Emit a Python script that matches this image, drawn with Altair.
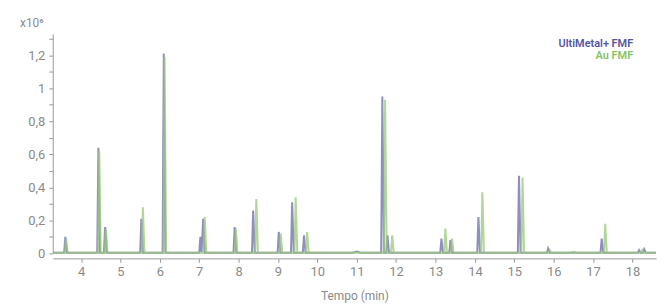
import altair as alt
import pandas as pd

# UltiMetal+ FMF peaks (time in min, intensity x10^6)
ulti_t = [3.30, 3.57, 3.60, 3.64, 4.41, 4.44, 4.48, 4.58, 4.61, 4.65, 5.50, 5.53, 5.57,
          6.07, 6.10, 6.14, 7.00, 7.03, 7.06, 7.10, 7.14, 7.87, 7.90, 7.94, 8.34, 8.37, 8.41,
          8.99, 9.02, 9.06, 9.33, 9.36, 9.40, 9.63, 9.66, 9.70, 10.9, 11.0, 11.1, 11.62, 11.65,
          11.69, 11.75, 11.78, 11.82, 13.12, 13.15, 13.19, 13.35, 13.38, 13.42, 14.06, 14.09,
          14.13, 15.09, 15.12, 15.16, 15.83, 15.86, 15.90, 17.19, 17.22, 17.26, 18.14, 18.17,
          18.21, 18.27, 18.30, 18.34, 18.60]
ulti_v = [0.004, 0.004, 0.10, 0.004, 0.004, 0.64, 0.004, 0.004, 0.16, 0.004, 0.004, 0.21, 0.004,
          0.004, 1.21, 0.004, 0.004, 0.10, 0.004, 0.21, 0.004, 0.004, 0.16, 0.004, 0.004, 0.26, 0.004,
          0.004, 0.13, 0.004, 0.004, 0.31, 0.004, 0.004, 0.11, 0.004, 0.004, 0.012, 0.004, 0.004, 0.95,
          0.004, 0.004, 0.11, 0.004, 0.004, 0.09, 0.004, 0.004, 0.08, 0.004, 0.004, 0.22,
          0.004, 0.004, 0.47, 0.004, 0.004, 0.03, 0.004, 0.004, 0.09, 0.004, 0.004, 0.02,
          0.004, 0.004, 0.025, 0.004, 0.004]

# Au FMF peaks
au_t = [3.30, 3.59, 3.62, 3.66, 4.43, 4.46, 4.50, 4.60, 4.63, 4.67, 5.54, 5.57, 5.61,
        6.09, 6.12, 6.16, 7.11, 7.14, 7.18, 7.90, 7.93, 7.97, 8.42, 8.45, 8.49, 9.04, 9.07, 9.11,
        9.42, 9.45, 9.49, 9.71, 9.74, 9.78, 11.69, 11.72, 11.76, 11.87, 11.90, 11.94,
        13.22, 13.25, 13.29, 13.39, 13.42, 13.46, 14.16, 14.19, 14.23, 15.18, 15.21, 15.25,
        15.87, 15.90, 15.94, 16.4, 16.5, 16.6, 17.28, 17.31, 17.35, 18.22, 18.25, 18.29, 18.60]
au_v = [0.004, 0.004, 0.09, 0.004, 0.004, 0.62, 0.004, 0.004, 0.15, 0.004, 0.004, 0.28, 0.004,
        0.004, 1.19, 0.004, 0.004, 0.22, 0.004, 0.004, 0.15, 0.004, 0.004, 0.33, 0.004, 0.004, 0.12, 0.004,
        0.004, 0.34, 0.004, 0.004, 0.13, 0.004, 0.004, 0.93, 0.004, 0.004, 0.11, 0.004,
        0.004, 0.15, 0.004, 0.004, 0.09, 0.004, 0.004, 0.37, 0.004, 0.004, 0.46, 0.004,
        0.004, 0.02, 0.004, 0.004, 0.01, 0.004, 0.004, 0.18, 0.004, 0.004, 0.02, 0.004, 0.004]

series_names = ["UltiMetal+ FMF", "Au FMF"]
series_colors = ["#6a6aa8", "#98c878"]
legend_colors = ["#55559f", "#86c266"]
x_ticks = list(range(4, 19))
y_ticks = [0, 0.1, 0.2, 0.3, 0.4, 0.5, 0.6, 0.7, 0.8, 0.9, 1.0, 1.1, 1.2, 1.3]

df = pd.concat([
    pd.DataFrame({"t": ulti_t, "v": ulti_v, "s": series_names[0], "o": range(len(ulti_t))}),
    pd.DataFrame({"t": au_t, "v": au_v, "s": series_names[1], "o": range(len(au_t))}),
])

grey = "#8a8a8a"

lines = alt.Chart(df).mark_line(strokeWidth=2, opacity=0.75).encode(
    x=alt.X("t:Q", scale=alt.Scale(domain=[3.28, 18.6], nice=False, zero=False),
            axis=alt.Axis(values=x_ticks, title="Tempo (min)", grid=False, offset=5,
                          labelFontSize=13, labelColor=grey, labelFont="Roboto",
                          titleFontSize=12, titleColor=grey, titleFont="Roboto",
                          titleFontWeight="normal", titlePadding=12,
                          domainColor="#999", tickColor="#999", tickSize=4, labelPadding=3)),
    y=alt.Y("v:Q", scale=alt.Scale(domain=[0, 1.33], nice=False),
            axis=alt.Axis(values=y_ticks, title=None, grid=False,
                          labelExpr="round(datum.value*10) % 2 == 0 ? replace(format(datum.value, ''), '.', ',') : ''",
                          labelFontSize=13, labelColor=grey, labelFont="Roboto",
                          domainColor="#999", tickColor="#999", tickSize=4, labelPadding=4)),
    color=alt.Color("s:N", scale=alt.Scale(domain=series_names, range=series_colors), legend=None),
    detail="s:N",
    order="o:Q",
)

leg_df = pd.DataFrame({"s": series_names, "c": legend_colors, "yy": [10, 22]})
legend = alt.Chart(leg_df).mark_text(align="right", baseline="middle", fontSize=11,
                                      fontWeight=600, font="Roboto").encode(
    x=alt.value(584),
    y=alt.Y("yy:Q", scale=None),
    text="s:N",
    color=alt.Color("c:N", scale=None),
)

unit = alt.Chart(pd.DataFrame({"u": ["x10⁶"]})).mark_text(
    align="center", baseline="middle", fontSize=12, color=grey, font="Roboto").encode(
    x=alt.value(-21), y=alt.value(-11), text="u:N")

chart = alt.layer(lines, legend, unit).properties(
    width=607, height=221,
    autosize=alt.AutoSizeParams(type="none"),
    padding={"left": 45, "top": 25, "right": 5, "bottom": 55},
    background="white",
).configure_view(stroke=None)

chart.save("out.html", embed_options={"renderer": "svg", "actions": False})
